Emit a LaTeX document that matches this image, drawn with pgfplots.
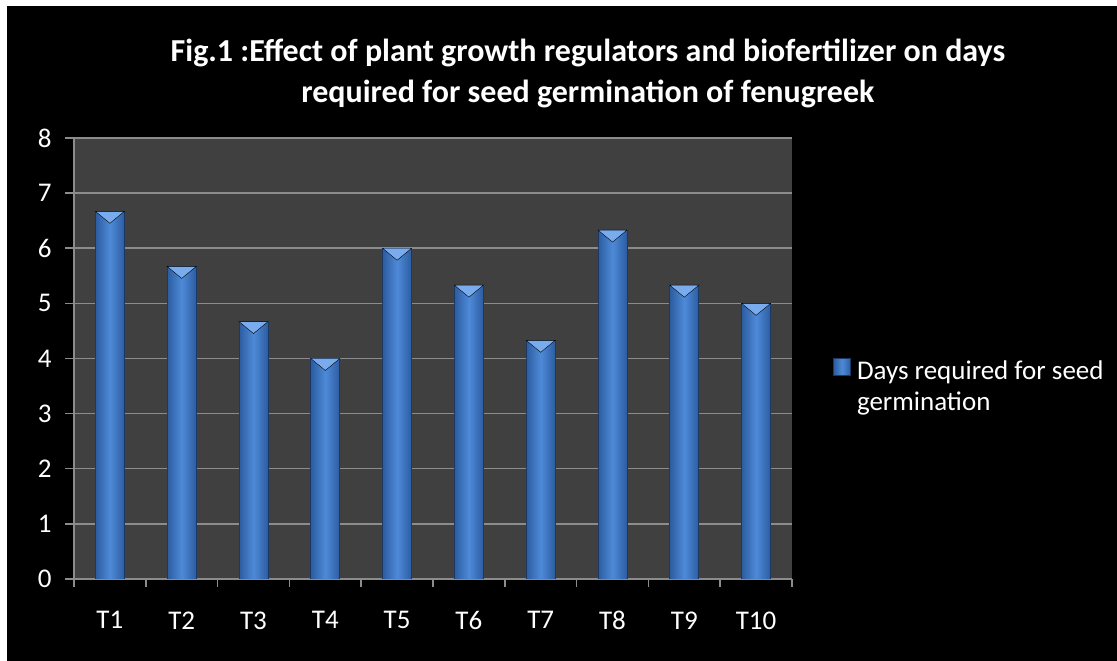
\documentclass[border=0pt]{standalone}
\usepackage{pgfplots}
\pgfplotsset{compat=1.18}
\usepackage{fontspec}
\setmainfont{Carlito}
\definecolor{plotbg}{RGB}{64,64,64}
\definecolor{gridc}{RGB}{140,140,140}
\definecolor{barD}{RGB}{44,92,160}
\definecolor{barL}{RGB}{78,138,216}
\definecolor{barE}{RGB}{28,56,100}
\definecolor{bevel}{RGB}{120,172,238}
\pgfplotsset{onebar/.style={ybar, bar width=29pt, bar shift=0pt, draw=barE, line width=0.8pt,
  left color=barD, right color=barD, middle color=barL}}
\begin{document}
\begin{tikzpicture}[x=1pt,y=1pt]
\fill[white] (0,0) rectangle (1117,661);
\fill[black] (7,0) rectangle (1117,655);
\node[white, font=\fontsize{32}{41}\selectfont\bfseries, align=center] at (588,588) {Fig.1 :Effect of plant growth regulators and biofertilizer on days\\required for seed germination of fenugreek};
\begin{axis}[
  at={(74pt,82pt)}, anchor=south west, scale only axis,
  width=718pt, height=441pt,
  xmin=0.5, xmax=10.5, ymin=0, ymax=8,
  ytick={0,1,2,3,4,5,6,7,8},
  xtick={1,2,3,4,5,6,7,8,9,10},
  xticklabels={T1,T2,T3,T4,T5,T6,T7,T8,T9,T10},
  minor xtick={0.5,1.5,2.5,3.5,4.5,5.5,6.5,7.5,8.5,9.5,10.5},
  axis background/.style={fill=plotbg},
  axis x line*=bottom, axis y line*=left,
  axis line style={draw=gridc, line width=1.5pt},
  ymajorgrids, grid style={draw=gridc, line width=1.5pt},
  tick align=outside,
  major tick length=9pt, minor tick length=8pt,
  x tick style={draw=none},
  minor x tick style={draw=gridc, line width=1.5pt},
  y tick style={draw=gridc, line width=1.5pt},
  /pgf/number format/assume math mode=true,
  ticklabel style={text=white, font=\fontsize{27}{31}\selectfont},
  yticklabel style={xshift=-10pt},
  xticklabel style={yshift=-20pt},
  legend style={at={(axis description cs:1,0.5)}, anchor=north west, draw=none, fill=none,
    text=white, font=\fontsize{27}{31}\selectfont, xshift=38pt, yshift=5pt},
  legend image code/.code={\fill[barL, draw=barE] (0pt,-6pt) rectangle (17pt,11pt);},
  legend style={column sep=4pt},
]
\addplot[onebar] coordinates {(1,6.67)};
\addlegendentry{\begin{tabular}[t]{@{}l@{}}Days required for seed\\germination\end{tabular}}
\addplot[onebar, forget plot] coordinates {(2,5.67)};
\addplot[onebar, forget plot] coordinates {(3,4.67)};
\addplot[onebar, forget plot] coordinates {(4,4)};
\addplot[onebar, forget plot] coordinates {(5,6)};
\addplot[onebar, forget plot] coordinates {(6,5.33)};
\addplot[onebar, forget plot] coordinates {(7,4.33)};
\addplot[onebar, forget plot] coordinates {(8,6.33)};
\addplot[onebar, forget plot] coordinates {(9,5.33)};
\addplot[onebar, forget plot] coordinates {(10,5)};
\addplot[only marks, mark=triangle*, mark size=10pt, forget plot,
  mark options={yshift=-4pt, xscale=1.68, yscale=-0.8, fill=bevel, draw=none}]
  coordinates {(1,6.67) (2,5.67) (3,4.67) (4,4) (5,6) (6,5.33) (7,4.33) (8,6.33) (9,5.33) (10,5)};
\end{axis}
\end{tikzpicture}
\end{document}
